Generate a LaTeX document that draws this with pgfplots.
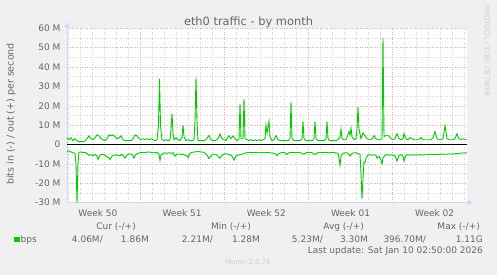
\documentclass[border=0pt]{standalone}
\usepackage{pgfplots}
\pgfplotsset{compat=1.18}
\usepackage{fontspec}
\setmainfont{DejaVu Sans}
\usetikzlibrary{arrows.meta}
\definecolor{bgc}{HTML}{F0F0F0}
\definecolor{fontc}{HTML}{666666}
\definecolor{axisc}{HTML}{CFD6F8}
\definecolor{mgrid}{RGB}{236,168,168}
\definecolor{ngrid}{RGB}{212,212,212}
\definecolor{mgreen}{HTML}{00CC00}
\definecolor{faint}{RGB}{205,205,205}
\begin{document}
\begin{tikzpicture}[x=1pt,y=1pt]
\fill[bgc] (0,0) rectangle (497,275);
\useasboundingbox (0,0) rectangle (497,275);
\begin{axis}[
  at={(67pt,72.3pt)}, anchor=south west,
  scale only axis, width=400pt, height=174.4pt,
  xmin=67, xmax=467, ymin=-30, ymax=60,
  axis background/.style={fill=white},
  axis lines=left,
  axis line style={draw=axisc, line width=0.8pt, -{Triangle[length=5pt,width=5pt]}, shorten >=-6pt},
  xtick={97.9,182.1,266.3,350.5,434.7},
  xticklabels={Week 50,Week 51,Week 52,Week 01,Week 02},
  minor xtick={67.8,79.83,...,465},
  extra x ticks={140,224.2,308.4,392.6},
  extra x tick labels={},
  extra x tick style={grid=major, major grid style={draw=mgrid, line width=0.6pt, dash pattern=on 1pt off 1.5pt}},
  xmajorgrids=false, xminorgrids=true,
  ytick={-30,-20,...,60},
  yticklabels={-30 M,-20 M,-10 M,0,10 M,20 M,30 M,40 M,50 M,60 M},
  minor ytick={-25,-15,...,55},
  ymajorgrids=true, yminorgrids=true,
  major grid style={draw=mgrid, line width=0.6pt, dash pattern=on 1pt off 1.5pt},
  minor grid style={draw=ngrid, line width=0.6pt, dash pattern=on 1pt off 1.5pt},
  major tick length=0pt, minor tick length=0pt,
  tick style={draw=none},
  ticklabel style={font=\fontsize{9}{10}\selectfont, text=fontc},
  yticklabel style={xshift=-3pt},
  xticklabel style={yshift=-3pt},
  clip=false,
]
\addplot[black, line width=1.2pt] coordinates {(67,0) (467,0)};
% out (+)
\addplot[mgreen, line width=0.9pt] coordinates {
(67,3.5)(69,2.5)(71,3.5)(73,2.0)(75,3.0)(77,2.0)(79,1.5)(82,1.5)(85,1.8)(87,3.0)(89,4.5)(91,3.0)(93,2.5)(95,3.5)(97,5.0)(99,4.5)(101,3.0)(103,2.5)(105,2.0)(107,3.0)(109,5.0)(111,4.5)(113,5.0)(115,4.0)(117,3.0)(119,3.5)(121,4.5)(123,2.5)(125,2.0)(128,2.0)(131,2.0)(133,3.0)(135,5.0)(137,4.5)(139,3.0)(141,2.5)(143,3.0)(145,2.5)(147,3.0)(149,2.5)(151,3.0)(153,2.5)(155,2.0)(157,2.5)(158.5,10)(159.5,34)(160.5,10)(162,2.5)(164,2.0)(166,2.5)(168,2.0)(170,2.5)(171,8)(172,16)(173,6)(174,2.5)(176,3.5)(178,2.5)(180,2.0)(182,4)(183,10)(184,4)(186,2.0)(188,2.5)(190,2.0)(192,2.0)(194,2.5)(195,12)(196,34.5)(197,12)(198,2.0)(200,2.0)(202,2.0)(204,2.0)(206,2.5)(208,4.0)(209,4.7)(211,2.5)(213,2.0)(215,2.0)(217,2.5)(219,4.0)(220,5.5)(222,3.0)(224,2.5)(226,2.0)(228,4.0)(229,4.5)(231,3.0)(233,4.5)(235,3.0)(237,2.0)(239,3)(240,21)(241,3)(243,3)(244,23.5)(245,3)(247,2.5)(249,2.0)(251,2.5)(253,2.0)(255,2.5)(257,2.0)(259,2.5)(261,2.0)(263,2.5)(265,3)(266,10)(267,6)(268,9)(269,12)(270,4)(272,2.0)(274,2.5)(276,4.6)(278,2.5)(280,2.0)(282,2.0)(284,2.0)(286,2.0)(288,2.0)(290,3)(291,22)(292,3)(294,2.0)(296,2.0)(298,2.0)(300,2.0)(302,3)(303,12)(304,3)(306,2.0)(308,2.0)(310,2.0)(312,2.0)(314,3)(315,12)(316,3)(318,2.0)(320,2.0)(322,2.0)(324,2.0)(326,3)(327,12)(328,3)(330,2.0)(332,2.0)(334,2.0)(336,2.0)(338,2.5)(340,4)(341,8)(342,3)(344,2.5)(346,2.5)(348,5)(349,6.7)(350,5)(351,8.6)(352,4)(354,2.5)(356,3)(357,8)(358,19.5)(359,8)(361,3)(363,6)(365,4.5)(367,3)(369,2.5)(371,2.5)(373,3.5)(374,4.6)(376,3)(378,2.5)(380,2.5)(382,3)(383,55)(384,4)(385,4.5)(387,4.6)(389,4.5)(391,3)(393,2.5)(395,3)(397,5.6)(399,3)(401,2.5)(403,3)(404,5.6)(406,3)(408,2.5)(410,3.6)(412,3)(414,2.5)(416,2.5)(418,2.5)(420,3)(421,3.6)(423,2.5)(425,2.5)(427,2.5)(429,2.5)(431,2.5)(433,3.5)(435,6.7)(437,3)(439,2.5)(441,2.5)(443,3)(445,9.7)(447,3)(449,2.5)(451,2.5)(453,2.5)(455,3)(457,5.6)(459,3)(461,2.5)(463,3)(465,2.5)(467,2.5)
};
% in (-)
\addplot[mgreen, line width=0.9pt] coordinates {
(67,-3.6)(69,-3.2)(71,-3.8)(73,-4.2)(75,-4.5)(76,-10)(77,-30)(78,-10)(79,-4.0)(81,-3.8)(83,-4.2)(85,-4.0)(87,-4.5)(89,-5.6)(91,-5.2)(93,-5.8)(95,-5.0)(97,-6.0)(98,-7.7)(100,-5.5)(102,-5.0)(104,-5.2)(106,-6.0)(108,-6.5)(110,-7.7)(112,-6.0)(114,-5.6)(116,-5.2)(118,-5.6)(120,-5.8)(122,-5.0)(124,-6.0)(125,-7.0)(127,-5.5)(129,-4.8)(131,-5.0)(133,-5.6)(134,-7.0)(136,-5.0)(138,-4.5)(140,-4.2)(142,-4.0)(145,-4.2)(148,-3.8)(151,-4.0)(154,-4.3)(157,-4.0)(159,-5)(160,-8.2)(161,-5.5)(163,-4.5)(165,-4.3)(167,-4.5)(169,-4.2)(171,-4.5)(173,-4.2)(175,-6.0)(177,-5.0)(179,-4.8)(181,-5.2)(183,-5.0)(185,-5.5)(187,-5.8)(188,-6.7)(190,-4.5)(192,-4.0)(195,-3.8)(198,-3.6)(201,-3.8)(204,-4.0)(207,-5.5)(209,-7.2)(211,-6.0)(213,-5.0)(215,-5.0)(217,-5.5)(219,-6.5)(220,-7.0)(222,-5.5)(224,-5.0)(226,-4.8)(228,-5.0)(230,-5.2)(232,-6.0)(234,-8.0)(236,-6)(238,-5.5)(240,-5.2)(242,-5.0)(244,-4.5)(247,-4.2)(250,-4.0)(253,-4.2)(256,-4.0)(259,-4.3)(262,-4.0)(265,-4.2)(268,-4.0)(271,-4.3)(274,-4.5)(276,-5.0)(277,-5.8)(278,-4.8)(281,-4.2)(284,-4.0)(287,-5.0)(289,-4.2)(292,-4.0)(295,-4.2)(298,-4.0)(301,-4.3)(304,-5.0)(306,-4.2)(309,-4.0)(312,-4.2)(315,-5.2)(317,-4.3)(320,-4.0)(323,-4.2)(326,-4.0)(329,-4.3)(332,-4.0)(335,-4.2)(338,-4.5)(339,-7)(340,-10.7)(341,-6)(343,-4.5)(346,-4.2)(348,-4.5)(350,-6.0)(352,-4.5)(355,-4.2)(358,-4.5)(360,-5)(361,-15)(362,-28)(363,-18)(364,-9)(365,-9.3)(366,-7)(368,-5.5)(370,-5.2)(372,-5.5)(374,-5.3)(376,-5.6)(377,-7.0)(379,-6)(381,-8)(382,-10)(383,-7)(385,-5.5)(387,-5.2)(389,-5.5)(391,-5.3)(393,-5.5)(395,-5.8)(397,-8.5)(399,-5.5)(401,-5.2)(403,-6)(404,-8.5)(406,-5.5)(408,-5.2)(410,-5.5)(413,-5.3)(416,-5.5)(419,-5.2)(422,-5.4)(425,-5.2)(428,-5.3)(431,-5.0)(434,-5.2)(437,-5.0)(440,-5.1)(443,-4.9)(446,-5.0)(449,-4.8)(452,-4.9)(455,-4.7)(458,-4.6)(461,-4.4)(464,-4.3)(467,-4.2)
};
\end{axis}
% title
\node[anchor=base, text=fontc, font=\fontsize{11.4}{12}\selectfont] at (248.5,249) {eth0 traffic - by month};
% y label
\node[rotate=90, anchor=center, text=fontc, font=\fontsize{9.5}{10}\selectfont] at (11,161) {bits in (-) / out (+) per second};
% watermark
\node[rotate=-90, anchor=center, text=faint, font=\fontsize{7.1}{8}\selectfont] at (487,224) {RRDTOOL / TOBI OETIKER};
% legend
\begin{scope}[every node/.style={text=fontc, font=\fontsize{9}{10}\selectfont, inner sep=0pt}]
\node[anchor=base east] at (136,45) {Cur (-/+)};
\node[anchor=base east] at (251,45) {Min (-/+)};
\node[anchor=base east] at (364,45) {Avg (-/+)};
\node[anchor=base east] at (480,45) {Max (-/+)};
\fill[mgreen] (14,32.5) rectangle (19.5,38);
\node[anchor=base west] at (20.5,32.7) {bps};
\node[anchor=base east] at (103,32.7) {4.06M/};
\node[anchor=base east] at (149,32.7) {1.86M};
\node[anchor=base east] at (213,32.7) {2.21M/};
\node[anchor=base east] at (260,32.7) {1.28M};
\node[anchor=base east] at (323,32.7) {5.23M/};
\node[anchor=base east] at (368,32.7) {3.30M};
\node[anchor=base east] at (426,32.7) {396.70M/};
\node[anchor=base east] at (483,32.7) {1.11G};
\node[anchor=base east] at (483,21) {Last update: Sat Jan 10 02:50:00 2026};
\end{scope}
\node[anchor=base, text=faint, font=\fontsize{7}{8}\selectfont, inner sep=0pt] at (248,10) {Munin 2.0.76};
\end{tikzpicture}
\end{document}
